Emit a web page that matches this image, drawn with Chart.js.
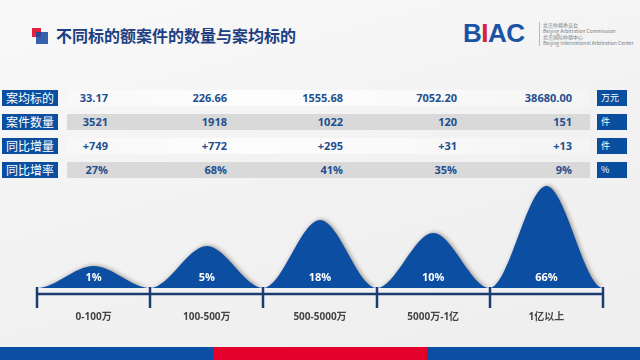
<!DOCTYPE html>
<html>
<head>
<meta charset="utf-8">
<script src="https://cdn.jsdelivr.net/npm/chart.js@4.4.0/dist/chart.umd.min.js"></script>
<style>
  html, body { margin: 0; padding: 0; }
  #page {
    position: relative; width: 640px; height: 360px; overflow: hidden;
    background: linear-gradient(165deg, #f9f9fa 0%, #f2f2f3 50%, #eeeeef 100%);
    font-family: "Open Sans", "Noto Sans CJK SC", sans-serif;
  }
  .abs { position: absolute; }
  #title { left: 56px; top: 24px; font: bold 16px/22px "Noto Sans CJK SC", sans-serif; color: #1d3f82; }
  .lbl { background: #0a4f9f; color: #fff; font: 12px/16px "Noto Sans CJK SC", sans-serif; padding-left: 4px; box-sizing: border-box; }
  .unit { background: #0a4f9f; color: #fff; font: 9px/16px "Noto Sans CJK SC", sans-serif; padding-left: 4px; box-sizing: border-box; }
  .val { color: #1f4f8e; font: bold 11px/16px "Open Sans", sans-serif; text-align: right; width: 90px; }
  .band-gray { background: #d9d9d9; }
  .band-light { background: linear-gradient(to right, rgba(255,255,255,0.3), rgba(255,255,255,0.85) 35%, rgba(255,255,255,0.5) 70%, rgba(255,255,255,0.2)); }
  #logo { left: 463px; top: 20px; font: bold 26px/26px "Liberation Sans", Arial, sans-serif; color: #1b52a3; letter-spacing: -0.5px; }
  #logo .i { color: #d8203a; }
  .small { color: #7a7a7a; font: 5px/6px "Noto Sans CJK SC", "Open Sans", sans-serif; white-space: nowrap; }
  canvas { position: absolute; left: 0; top: 0; }
</style>
</head>
<body>
<div id="page">
  <div class="abs" style="left:32px;top:28px;width:9px;height:9px;background:#e2233f;"></div>
  <div class="abs" style="left:36px;top:32px;width:12px;height:12px;background:rgba(27,75,160,0.88);"></div>
  <div id="title" class="abs">不同标的额案件的数量与案均标的</div>

  <div id="logo" class="abs">B<span class="i">I</span>AC</div>
  <div class="abs" style="left:539px;top:22px;width:1px;height:24px;background:#b9b9b9;"></div>
  <div class="abs small" style="left:543px;top:22px;">北京仲裁委员会</div>
  <div class="abs small" style="left:543px;top:28px;">Beijing Arbitration Commission</div>
  <div class="abs small" style="left:543px;top:34px;">北京国际仲裁中心</div>
  <div class="abs small" style="left:543px;top:40px;">Beijing International Arbitration Center</div>

  <div id="table"></div>

  <div class="abs" style="left:0;top:347px;width:213px;height:13px;background:#0a4fa3;"></div>
  <div class="abs" style="left:213px;top:347px;width:214px;height:13px;background:#e4022d;"></div>
  <div class="abs" style="left:427px;top:347px;width:213px;height:13px;background:#0a4fa3;"></div>

  <canvas id="bumpChart" width="640" height="360"></canvas>
</div>

<script>
// table rows
const rowLabels = ['案均标的', '案件数量', '同比增量', '同比增率'];
const rowUnits = ['万元', '件', '件', '%'];
const avgAmount = ['33.17', '226.66', '1555.68', '7052.20', '38680.00'];
const caseCounts = ['3521', '1918', '1022', '120', '151'];
const yoyIncrease = ['+749', '+772', '+295', '+31', '+13'];
const yoyRate = ['27%', '68%', '41%', '35%', '9%'];

// bump chart
const categories = ['0-100万', '100-500万', '500-5000万', '5000万-1亿', '1亿以上'];
const shares = [1, 5, 18, 10, 66];
const bumpHeights = [22, 42, 68, 55, 102];

// build table
const table = document.getElementById('table');
const rows = [avgAmount, caseCounts, yoyIncrease, yoyRate];
const rowTop = [90, 114, 138, 162];
const colRight = [108, 227, 343, 457, 572];

rows.forEach((vals, r) => {
  const top = rowTop[r];
  const band = document.createElement('div');
  band.className = 'abs ' + (r % 2 ? 'band-gray' : 'band-light');
  band.style.cssText = `left:67px;top:${top}px;width:523px;height:16px;`;
  table.appendChild(band);

  const lbl = document.createElement('div');
  lbl.className = 'abs lbl';
  lbl.style.cssText = `left:2px;top:${top}px;width:56px;height:16px;`;
  lbl.textContent = rowLabels[r];
  table.appendChild(lbl);

  const unit = document.createElement('div');
  unit.className = 'abs unit';
  unit.style.cssText = `left:597px;top:${top}px;width:30px;height:16px;`;
  unit.textContent = rowUnits[r];
  table.appendChild(unit);

  vals.forEach((v, c) => {
    const d = document.createElement('div');
    d.className = 'abs val';
    d.style.cssText = `left:${colRight[c] - 90}px;top:${top}px;height:16px;`;
    d.textContent = v;
    table.appendChild(d);
  });
});

// points: zero at each boundary, peak at each centre (flat padding outside the axis)
const points = [{ x: -1, y: 0 }];
bumpHeights.forEach((h, i) => {
  points.push({ x: i, y: 0 });
  points.push({ x: i + 0.5, y: h });
});
points.push({ x: categories.length, y: 0 });
points.push({ x: categories.length + 1, y: 0 });

const navy = '#1b3c70';

const shadowPlugin = {
  id: 'bumpShadow',
  beforeDatasetsDraw(chart) {
    const ctx = chart.ctx;
    ctx.save();
    ctx.shadowColor = 'rgba(70,50,30,0.45)';
    ctx.shadowBlur = 4;
    ctx.shadowOffsetX = 1.5;
    ctx.shadowOffsetY = -0.5;
  },
  afterDatasetsDraw(chart) {
    chart.ctx.restore();
  }
};

const axisPlugin = {
  id: 'bumpAxis',
  afterDraw(chart) {
    const ctx = chart.ctx;
    const xs = chart.scales.x;
    const base = chart.chartArea.bottom;
    const lineY = base + 6;
    ctx.save();
    // axis line
    ctx.strokeStyle = navy;
    ctx.lineWidth = 2.5;
    ctx.beginPath();
    ctx.moveTo(xs.getPixelForValue(0), lineY);
    ctx.lineTo(xs.getPixelForValue(categories.length), lineY);
    ctx.stroke();
    // tick marks
    for (let i = 0; i <= categories.length; i++) {
      const px = Math.round(xs.getPixelForValue(i));
      ctx.beginPath();
      ctx.moveTo(px, base - 1);
      ctx.lineTo(px, base + 20);
      ctx.stroke();
    }
    // share labels and category labels
    ctx.textAlign = 'center';
    ctx.textBaseline = 'middle';
    categories.forEach((cat, i) => {
      const cx = xs.getPixelForValue(i + 0.5);
      ctx.fillStyle = '#ffffff';
      ctx.font = 'bold 11px "Open Sans", sans-serif';
      ctx.fillText(shares[i] + '%', cx, base - 10);
      ctx.fillStyle = '#444444';
      ctx.font = 'bold 10px "Open Sans", "Noto Sans CJK SC", sans-serif';
      ctx.fillText(cat, cx, base + 29);
    });
    ctx.restore();
  }
};

new Chart(document.getElementById('bumpChart').getContext('2d'), {
  type: 'line',
  data: {
    datasets: [{
      data: points,
      fill: 'origin',
      backgroundColor: '#0b4ea2',
      borderColor: 'rgba(0,0,0,0)',
      borderWidth: 0,
      pointRadius: 0,
      cubicInterpolationMode: 'monotone'
    }]
  },
  options: {
    responsive: false,
    animation: false,
    layout: { padding: { left: 37, right: 37, top: 178, bottom: 72 } },
    scales: {
      x: { type: 'linear', min: 0, max: categories.length, display: false },
      y: { min: 0, max: 110, display: false }
    },
    plugins: { legend: { display: false }, tooltip: { enabled: false } }
  },
  plugins: [shadowPlugin, axisPlugin]
});
</script>
</body>
</html>
